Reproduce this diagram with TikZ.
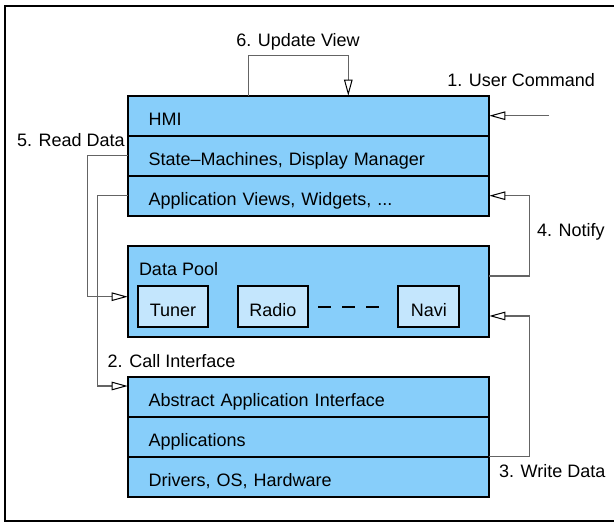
\documentclass[tikz,border=0pt]{standalone}
\usepackage{fontspec}
\setmainfont{Liberation Sans}
\usetikzlibrary{arrows.meta}
\definecolor{boxblue}{RGB}{135,206,250}
\definecolor{innerblue}{RGB}{196,230,253}
\definecolor{conngray}{RGB}{100,100,100}
\begin{document}
\begin{tikzpicture}[x=1pt,y=-1pt,
  font=\fontsize{18}{21}\selectfont,
  rowbox/.style={draw=black, line width=2pt, fill=boxblue, anchor=north west,
    minimum height=40pt, text width=319.6pt, align=left, inner xsep=21pt, inner ysep=2pt,
    text height=20pt, text depth=0pt, outer sep=0pt},
  poolbox/.style={draw=black, line width=2pt, fill=boxblue, anchor=north west,
    minimum width=361.6pt, minimum height=90.7pt, inner sep=0pt, outer sep=0pt},
  modbox/.style={draw=black, line width=2pt, fill=innerblue, anchor=north west,
    minimum height=40.7pt, inner sep=0pt, outer sep=0pt,
    text height=20pt, text depth=0pt},
  lbl/.style={inner sep=0pt, outer sep=0pt},
  conn/.style={draw=conngray, line width=1.2pt,
    -{Triangle[length=16pt, width=8.5pt, color=black, fill=white, line width=1pt]}},
  dashline/.style={draw=black, line width=2pt, dash pattern=on 12.5pt off 11.7pt}
]
\useasboundingbox (0,0) rectangle (614,523);
% outer frame (right side lies outside the picture)
\draw[line width=2.4pt] (614,6) -- (5,6) -- (5,521) -- (614,521);

% HMI stack
\node[rowbox] (hmi) at (127.7,95.7) {HMI};
\node[rowbox] (sm)  at (127.7,135.7) {State--Machines, Display Manager};
\node[rowbox] (av)  at (127.7,175.7) {Application Views, Widgets, ...};

% Data pool
\node[poolbox] (dp) at (127.7,246) {};
\node[lbl, anchor=base west] (dpl) at (139,275) {Data Pool};
\node[modbox, minimum width=70.6pt] (tuner) at (137.7,286) {Tuner};
\node[modbox, minimum width=70.6pt] (radio) at (237.7,286) {Radio};
\node[modbox, minimum width=61pt]   (navi)  at (398.3,286) {Navi};
\draw[dashline] ([xshift=9.7pt,yshift=-0.5pt]radio.east) -- ([xshift=-19.3pt,yshift=-0.5pt]navi.west);

% lower stack
\node[rowbox] (abs) at (127.7,376.7) {Abstract Application Interface};
\node[rowbox] (app) at (127.7,416.7) {Applications};
\node[rowbox] (drv) at (127.7,456.7) {Drivers, OS, Hardware};

% labels
\node[lbl, anchor=base] (t6) at (298,46) {6. Update View};
\node[lbl, anchor=base east] (t1) at (595,86) {1. User Command};
\node[lbl, anchor=base west] (t5) at (17,146) {5. Read Data};
\node[lbl, anchor=base west] (t4) at (537,236) {4. Notify};
\node[lbl, anchor=base west] (t2) at (107.7,367) {2. Call Interface};
\node[lbl, anchor=base west] (t3) at (499,477) {3. Write Data};

% connectors
\coordinate (uc) at (549,115.7);
\draw[conn] (uc) -- (uc -| hmi.east);

\coordinate (uvl) at (248.3,55.7);
\coordinate (uvr) at (348.3,55.7);
\draw[conn] (uvl |- hmi.north) -- (uvl) -- (uvr) -- (uvr |- hmi.north);

\coordinate (rd) at (87.7,296.7);
\draw[conn] (sm.west) -| (rd) -- (rd -| dp.west);

\coordinate (ci) at (97.3,386);
\draw[conn] (av.west) -| (ci) -- (ci -| abs.west);

\coordinate (nt) at (529.3,276);
\draw[conn] (nt -| dp.east) -- (nt) |- (av.east);

\coordinate (wd) at (529.3,316);
\draw[conn] (app.south east) -| (wd) -- (wd -| dp.east);
\end{tikzpicture}
\end{document}
